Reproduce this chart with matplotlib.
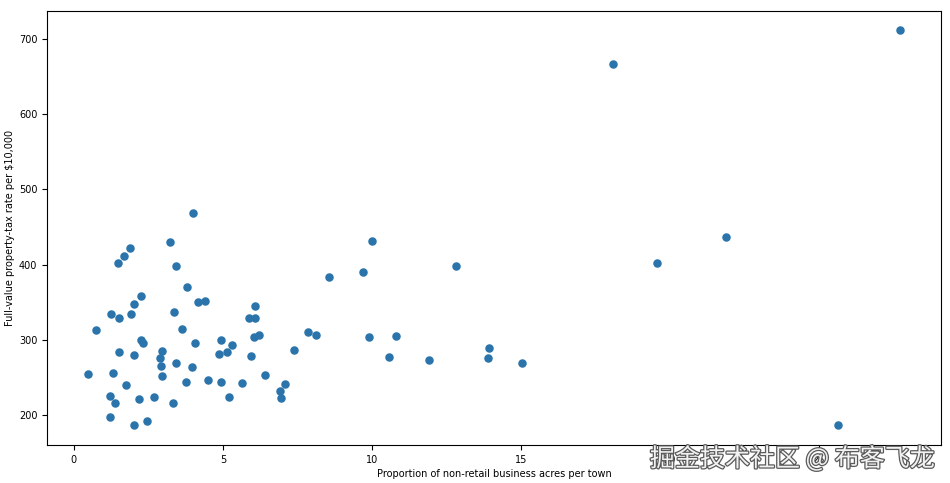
import matplotlib
matplotlib.use("Agg")
import matplotlib.pyplot as plt
import matplotlib.patheffects as pe

# INDUS (non-retail business acres) vs TAX (full-value tax rate), one point per distinct pair
indus = [2.31, 7.07, 2.18, 7.87, 8.14, 5.96, 2.95, 6.91, 5.64, 4.00,
         1.22, 0.74, 1.32, 5.13, 1.38, 3.37, 6.07, 10.81, 12.83, 4.86,
         4.49, 3.41, 15.04, 2.89, 8.56, 10.01, 25.65, 21.89, 19.58, 4.05,
         2.46, 3.44, 2.93, 0.46, 1.52, 1.47, 2.03, 2.68, 10.59, 13.89,
         6.20, 4.93, 5.86, 3.64, 3.75, 3.97, 6.96, 6.41, 3.33, 1.21,
         2.97, 2.25, 1.76, 5.32, 4.95, 13.92, 2.24, 6.09, 9.90, 7.38,
         3.24, 6.06, 5.19, 1.89, 3.78, 4.39, 4.15, 2.01, 1.25, 1.69,
         1.91, 18.10, 27.74, 9.69, 11.93, 2.02, 1.52]
tax = [296, 242, 222, 311, 307, 279, 252, 233, 243, 469,
       226, 313, 256, 284, 216, 337, 345, 305, 398, 281,
       247, 270, 270, 276, 384, 432, 188, 437, 403, 296,
       193, 398, 265, 255, 329, 402, 348, 224, 277, 276,
       307, 300, 330, 315, 244, 264, 223, 254, 216, 198,
       285, 300, 241, 293, 245, 289, 358, 329, 304, 287,
       430, 304, 224, 422, 370, 352, 351, 280, 335, 411,
       334, 666, 711, 391, 273, 187, 284]

xlabel = "Proportion of non-retail business acres per town"
ylabel = "Full-value property-tax rate per $10,000"
watermark = "掘金技术社区 @ 布客飞龙"

fig = plt.figure(figsize=(9.5, 4.83), dpi=100)
ax = fig.add_axes([47 / 950, 1 - 445 / 483, (941 - 47) / 950, (445 - 10.7) / 483])

ax.scatter(indus, tax, s=26, color="#2a74ab")

ax.set_xlabel(xlabel, fontsize=7, labelpad=3)
ax.set_ylabel(ylabel, fontsize=7, labelpad=3)
ax.tick_params(labelsize=7, length=3.5, width=0.8)
for s in ax.spines.values():
    s.set_linewidth(0.8)

# site watermark sitting over the bottom-right corner
fig.text(0.984, 0.022, watermark, ha="right", va="bottom", fontsize=18,
         family=["Noto Sans CJK SC", "DejaVu Sans"], color="#f2f2f2",
         path_effects=[pe.withStroke(linewidth=1.8, foreground="#5a5a5a")])

fig.savefig("out.png", dpi=100)
